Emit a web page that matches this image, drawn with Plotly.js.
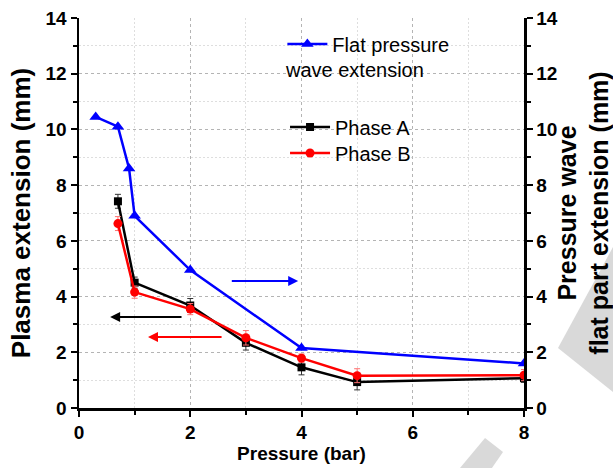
<!DOCTYPE html>
<html>
<head>
<meta charset="utf-8">
<script src="https://cdn.plot.ly/plotly-3.0.1.min.js"></script>
<style>html,body{margin:0;padding:0;background:#fff;}#chart{width:613px;height:468px;}</style>
</head>
<body>
<div id="chart"></div>
<script>
// ---- data ----
const flatPressure = [0.3, 0.7, 0.9, 1, 2, 4, 8];
const flatExtension = [10.45, 10.1, 8.6, 6.9, 4.95, 2.15, 1.6];

const phasePressure = [0.7, 1, 2, 3, 4, 5, 8];
const phaseA = [7.42, 4.5, 3.68, 2.34, 1.46, 0.93, 1.07];
const phaseAErr = [0.25, 0.2, 0.25, 0.26, 0.27, 0.28, 0.15];
const phaseB = [6.62, 4.16, 3.55, 2.52, 1.79, 1.16, 1.18];
const phaseBErr = [0.25, 0.22, 0.2, 0.26, 0.15, 0.25, 0.2];

const seriesNames = ["Flat pressure", "Phase A", "Phase B"];
const flatNameLine2 = "wave extension";
const xTitle = "Pressure (bar)";
const yTitle = "Plasma extension (mm)";
const y2Title = "Pressure wave<br>flat part extension (mm)";

const FONT = "Liberation Sans, Arial, sans-serif";

const traces = [
  {
    x: flatPressure, y: flatExtension, name: seriesNames[0], yaxis: "y2",
    type: "scatter", mode: "lines+markers", legend: "legend2",
    line: {color: "#0000ff", width: 2.5},
    marker: {symbol: "triangle-up", size: 11, color: "#0000ff"}
  },
  {
    x: phasePressure, y: phaseA, name: seriesNames[1],
    type: "scatter", mode: "lines+markers", legend: "legend",
    line: {color: "#000000", width: 2.5},
    marker: {symbol: "square", size: 8, color: "#000000"},
    error_y: {type: "data", array: phaseAErr, visible: true, color: "#333333", thickness: 1, width: 3}
  },
  {
    x: phasePressure, y: phaseB, name: seriesNames[2],
    type: "scatter", mode: "lines+markers", legend: "legend3",
    line: {color: "#ff0000", width: 2.5},
    marker: {symbol: "circle", size: 9, color: "#ff0000"},
    error_y: {type: "data", array: phaseBErr, visible: true, color: "#ff7070", thickness: 1, width: 3}
  }
];

const gridMajor = {color: "#b4b4b4", dash: "3px,3px"};
const gridMinor = {color: "#dedede", dash: "2px,2px"};

function arrow(x0, x1, y, color, yref) {
  return {
    x: x1, y: y, ax: x0, ay: y, xref: "x", yref: yref || "y", axref: "x", ayref: yref || "y",
    text: "", showarrow: true, arrowhead: 2, arrowsize: 1, arrowwidth: 2, arrowcolor: color
  };
}

function legendBox(x, y) {
  return {
    x: x, y: y, xanchor: "left", yanchor: "middle",
    bgcolor: "rgba(0,0,0,0)", borderwidth: 0,
    font: {family: FONT, size: 20, color: "#000"},
    itemwidth: 40
  };
}

const layout = {
  width: 613, height: 468,
  margin: {l: 79, r: 89, t: 18, b: 60},
  paper_bgcolor: "#ffffff", plot_bgcolor: "#ffffff",
  font: {family: FONT, color: "#000"},
  showlegend: true,
  xaxis: {
    range: [0, 8], dtick: 2, tick0: 0,
    showline: true, linecolor: "#000", linewidth: 2.5,
    ticks: "outside", ticklen: 6, tickwidth: 2, tickcolor: "#000",
    tickfont: {family: FONT, size: 19, color: "#000", weight: "bold"},
    showgrid: true, gridcolor: gridMajor.color, griddash: gridMajor.dash, gridwidth: 1,
    zeroline: false,
    minor: {dtick: 1, ticks: "outside", ticklen: 4, tickwidth: 2, tickcolor: "#000",
            showgrid: true, gridcolor: gridMinor.color, griddash: gridMinor.dash, gridwidth: 1},
    title: {text: xTitle, font: {family: FONT, size: 19, weight: "bold"}, standoff: 3}
  },
  xaxis2: {
    range: [0, 8], overlaying: "x", side: "top", anchor: "y", matches: "x",
    showline: true, linecolor: "#000", linewidth: 2.5,
    ticks: "inside", dtick: 1, ticklen: 5, tickwidth: 2, tickcolor: "#000",
    showticklabels: false, showgrid: false, zeroline: false
  },
  yaxis: {
    range: [0, 14], dtick: 2, tick0: 0,
    showline: true, linecolor: "#000", linewidth: 2.5,
    ticks: "outside", ticklen: 6, tickwidth: 2, tickcolor: "#000",
    tickfont: {family: FONT, size: 19, color: "#000", weight: "bold"},
    showgrid: true, gridcolor: gridMajor.color, griddash: gridMajor.dash, gridwidth: 1,
    zeroline: false,
    minor: {dtick: 1, ticks: "outside", ticklen: 4, tickwidth: 2, tickcolor: "#000",
            showgrid: true, gridcolor: gridMinor.color, griddash: gridMinor.dash, gridwidth: 1},
    title: {text: yTitle, font: {family: FONT, size: 26, weight: "bold"}, standoff: 8}
  },
  yaxis2: {
    range: [0, 14], dtick: 2, tick0: 0, overlaying: "y", side: "right", anchor: "x",
    showline: true, linecolor: "#000", linewidth: 2.5,
    ticks: "outside", ticklen: 6, tickwidth: 2, tickcolor: "#000",
    tickfont: {family: FONT, size: 19, color: "#000", weight: "bold"},
    showgrid: false, zeroline: false,
    minor: {dtick: 1, ticks: "outside", ticklen: 4, tickwidth: 2, tickcolor: "#000"},
    title: {text: y2Title, font: {family: FONT, size: 25, weight: "bold"}, standoff: 6}
  },
  legend: legendBox(0.463, (408 - 127) / 390),
  legend3: legendBox(0.463, (408 - 153) / 390),
  legend2: legendBox(0.457, (408 - 44) / 390),
  annotations: [
    {text: flatNameLine2, xref: "paper", yref: "paper", x: 0.458, y: 0.867,
     xanchor: "left", yanchor: "middle", showarrow: false,
     font: {family: FONT, size: 20, color: "#000"}},
    arrow(2.72, 3.94, 4.56, "#0000ff", "y2"),
    arrow(1.87, 0.56, 3.27, "#000000"),
    arrow(2.59, 1.24, 2.55, "#ff0000")
  ],
  shapes: [
    {type: "path", xref: "paper", yref: "paper", layer: "below",
     path: "M1.0764,0.1538 L1.2,0.4128 L1.2,0.041 Z",
     fillcolor: "#d9d9d9", line: {width: 0}},
    {type: "path", xref: "paper", yref: "paper", layer: "below",
     path: "M0.8562,-0.1538 L0.9124,-0.0769 L0.9528,-0.1128 L0.928,-0.1538 Z",
     fillcolor: "#d9d9d9", line: {width: 0}}
  ]
};

Plotly.newPlot("chart", traces, layout, {staticPlot: true, displayModeBar: false});
</script>
</body>
</html>
